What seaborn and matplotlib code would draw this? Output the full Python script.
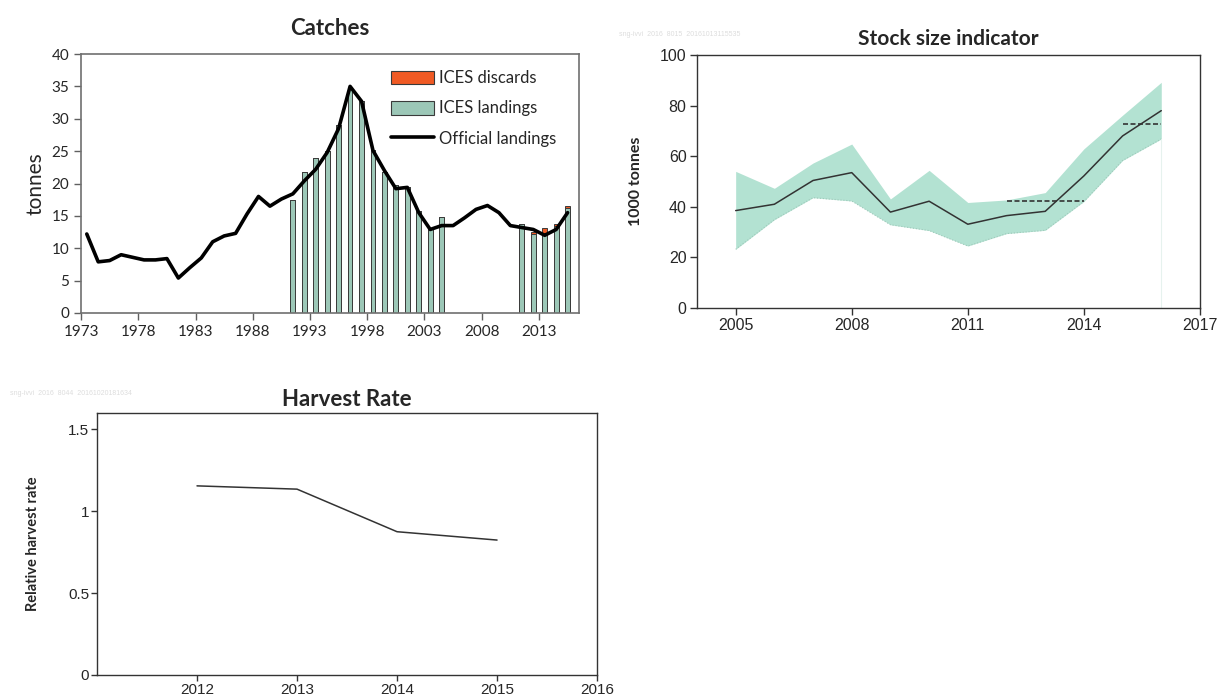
import numpy as np
import pandas as pd
import matplotlib
matplotlib.use('Agg')
import matplotlib.pyplot as plt
import seaborn as sns
from matplotlib.patches import Patch
from matplotlib.lines import Line2D

# -------------------------------
# data
# -------------------------------
catch_years = list(range(1973, 2016))
official_landings = [12.2, 7.9, 8.1, 9.0, 8.6, 8.2, 8.2, 8.4, 5.4, 7.0,
                     8.5, 11.0, 11.9, 12.3, 15.3, 18.0, 16.5, 17.6, 18.4, 20.4,
                     22.2, 24.8, 28.5, 35.0, 32.7, 25.1, 22.0, 19.2, 19.4, 15.5,
                     12.9, 13.5, 13.5, 14.7, 16.0, 16.6, 15.5, 13.5, 13.2, 12.9,
                     12.0, 12.9, 15.5]

ices_years = [1991, 1992, 1993, 1994, 1995, 1996, 1997, 1998, 1999, 2000,
              2001, 2002, 2003, 2004, 2011, 2012, 2013, 2014, 2015]
ices_landings = [17.4, 21.8, 24.0, 25.0, 29.1, 34.9, 32.8, 25.1, 21.8, 19.8,
                 19.4, 15.8, 12.9, 14.8, 13.8, 12.2, 12.3, 13.4, 16.2]
ices_discards = [0, 0, 0, 0, 0, 0, 0, 0, 0, 0,
                 0, 0, 0, 0, 0, 0.35, 0.8, 0.4, 0.4]

ssi_years = list(range(2005, 2017))
ssi_value = [38.5, 41.0, 50.4, 53.5, 37.9, 42.2, 33.1, 36.5, 38.2, 52.2, 68.0, 78.0]
ssi_upper = [54.0, 47.3, 57.3, 64.8, 43.1, 54.4, 41.7, 42.7, 45.6, 62.9, 76.2, 89.2]
ssi_lower = [23.2, 34.9, 43.6, 42.3, 32.9, 30.6, 24.5, 29.4, 30.7, 42.1, 58.3, 66.8]
mean_a_years = [2012, 2014]
mean_a_value = [42.3, 42.3]
mean_b_years = [2015, 2016]
mean_b_value = [72.9, 72.9]

hr_years = [2012, 2013, 2014, 2015]
hr_value = [1.155, 1.135, 0.875, 0.824]

# -------------------------------
# style
# -------------------------------
sns.set_style('ticks')
plt.rcParams['font.family'] = ['Lato', 'DejaVu Sans']
arial = 'Liberation Sans'

GREEN = '#9cc7b7'
ORANGE = '#f05a24'
BAND = '#b3e2d2'

fig = plt.figure(figsize=(12.17, 6.96), dpi=100)

# -------------------------------
# 1. Catches
# -------------------------------
ax1 = fig.add_axes([0.0666, 0.5503, 0.4092, 0.3721])
bars = pd.DataFrame({'year': ices_years,
                     'landings': ices_landings,
                     'total': np.array(ices_landings) + np.array(ices_discards)})
sns.barplot(data=bars, x='year', y='total', native_scale=True, width=0.42,
            color=ORANGE, saturation=1, edgecolor='#3a3a3a', linewidth=0.7, ax=ax1)
sns.barplot(data=bars, x='year', y='landings', native_scale=True, width=0.42,
            color=GREEN, saturation=1, edgecolor='#3a3a3a', linewidth=0.7, ax=ax1)
sns.lineplot(x=catch_years, y=official_landings, color='black', linewidth=2.6, ax=ax1)

ax1.set_xlim(1972.5, 2016.0)
ax1.set_ylim(0, 40)
ax1.set_yticks(range(0, 41, 5))
tick_years = list(range(1973, 2014, 5))
ax1.set_xticks(np.array(tick_years) - 0.5)
ax1.set_xticklabels([str(y) for y in tick_years])
ax1.tick_params(labelsize=11, length=5, color='#606060', width=1)
ax1.set_xlabel('')
ax1.set_ylabel('tonnes', fontsize=15, labelpad=4)
ax1.set_title('Catches', fontsize=16, fontweight='bold', pad=14)
for s in ax1.spines.values():
    s.set_color('#707070')
    s.set_linewidth(1.2)

handles = [Patch(facecolor=ORANGE, edgecolor='#3a3a3a', linewidth=0.8),
           Patch(facecolor=GREEN, edgecolor='#3a3a3a', linewidth=0.8),
           Line2D([0], [0], color='black', linewidth=2.6)]
ax1.legend(handles, ['ICES discards', 'ICES landings', 'Official landings'],
           loc='upper right', bbox_to_anchor=(0.985, 0.995), frameon=False,
           fontsize=12, handlelength=2.6, handleheight=0.9, handletextpad=0.3,
           labelspacing=0.85)

# -------------------------------
# 2. Stock size indicator
# -------------------------------
ax2 = fig.add_axes([0.5727, 0.5575, 0.4133, 0.3635])
ax2.fill_between(ssi_years, ssi_lower, ssi_upper, color=BAND, linewidth=0)
ax2.plot(ssi_years, ssi_lower, color='#9fc9ba', linewidth=0.8, linestyle=':')
ax2.axvline(ssi_years[-1], ymax=ssi_lower[-1] / 100, color='#e6f2ee', linewidth=0.8)
sns.lineplot(x=ssi_years, y=ssi_value, color='#333333', linewidth=1.1, ax=ax2)
ax2.plot(mean_a_years, mean_a_value, color='#333333', linewidth=1.2, linestyle=(0, (3, 1.5)))
ax2.plot(mean_b_years, mean_b_value, color='#333333', linewidth=1.2, linestyle=(0, (3, 1.5)))
ax2.set_xlim(2004, 2017)
ax2.set_ylim(0, 100)
ax2.set_xticks(range(2005, 2018, 3))
ax2.set_yticks(range(0, 101, 20))
ax2.tick_params(labelsize=11.5, length=5, color='#333333', width=1, pad=2.5,
                labelfontfamily=arial)
ax2.set_ylabel('1000 tonnes', fontsize=11.5, fontweight='bold', labelpad=12)
ax2.set_title('Stock size indicator', fontsize=15, fontweight='bold', pad=7)
for s in ax2.spines.values():
    s.set_color('#333333')
    s.set_linewidth(1.0)
fig.text(0.509, 0.948, 'sng-ivvi  2016  8015  20161013115535', fontsize=5,
         color='#dddddd', family=arial)

# -------------------------------
# 3. Harvest rate
# -------------------------------
ax3 = fig.add_axes([0.0797, 0.0302, 0.4109, 0.3764])
sns.lineplot(x=hr_years, y=hr_value, color='#333333', linewidth=1.1, ax=ax3)
ax3.set_xlim(2011, 2016)
ax3.set_ylim(0, 1.6)
ax3.set_xticks(range(2012, 2017))
ax3.set_yticks([0, 0.5, 1, 1.5])
ax3.set_yticklabels(['0', '0.5', '1', '1.5'])
ax3.tick_params(labelsize=11, length=4, color='#333333', width=1, pad=1.5,
                labelfontfamily=arial)
ax3.set_ylabel('Relative harvest rate', fontsize=10.5, fontweight='bold', labelpad=20)
ax3.set_title('Harvest Rate', fontsize=16, fontweight='bold', pad=5)
for s in ax3.spines.values():
    s.set_color('#333333')
    s.set_linewidth(1.0)
fig.text(0.008, 0.432, 'sng-ivvi  2016  8044  20161020181634', fontsize=5,
         color='#dddddd', family=arial)

fig.savefig('out.png', dpi=100)
